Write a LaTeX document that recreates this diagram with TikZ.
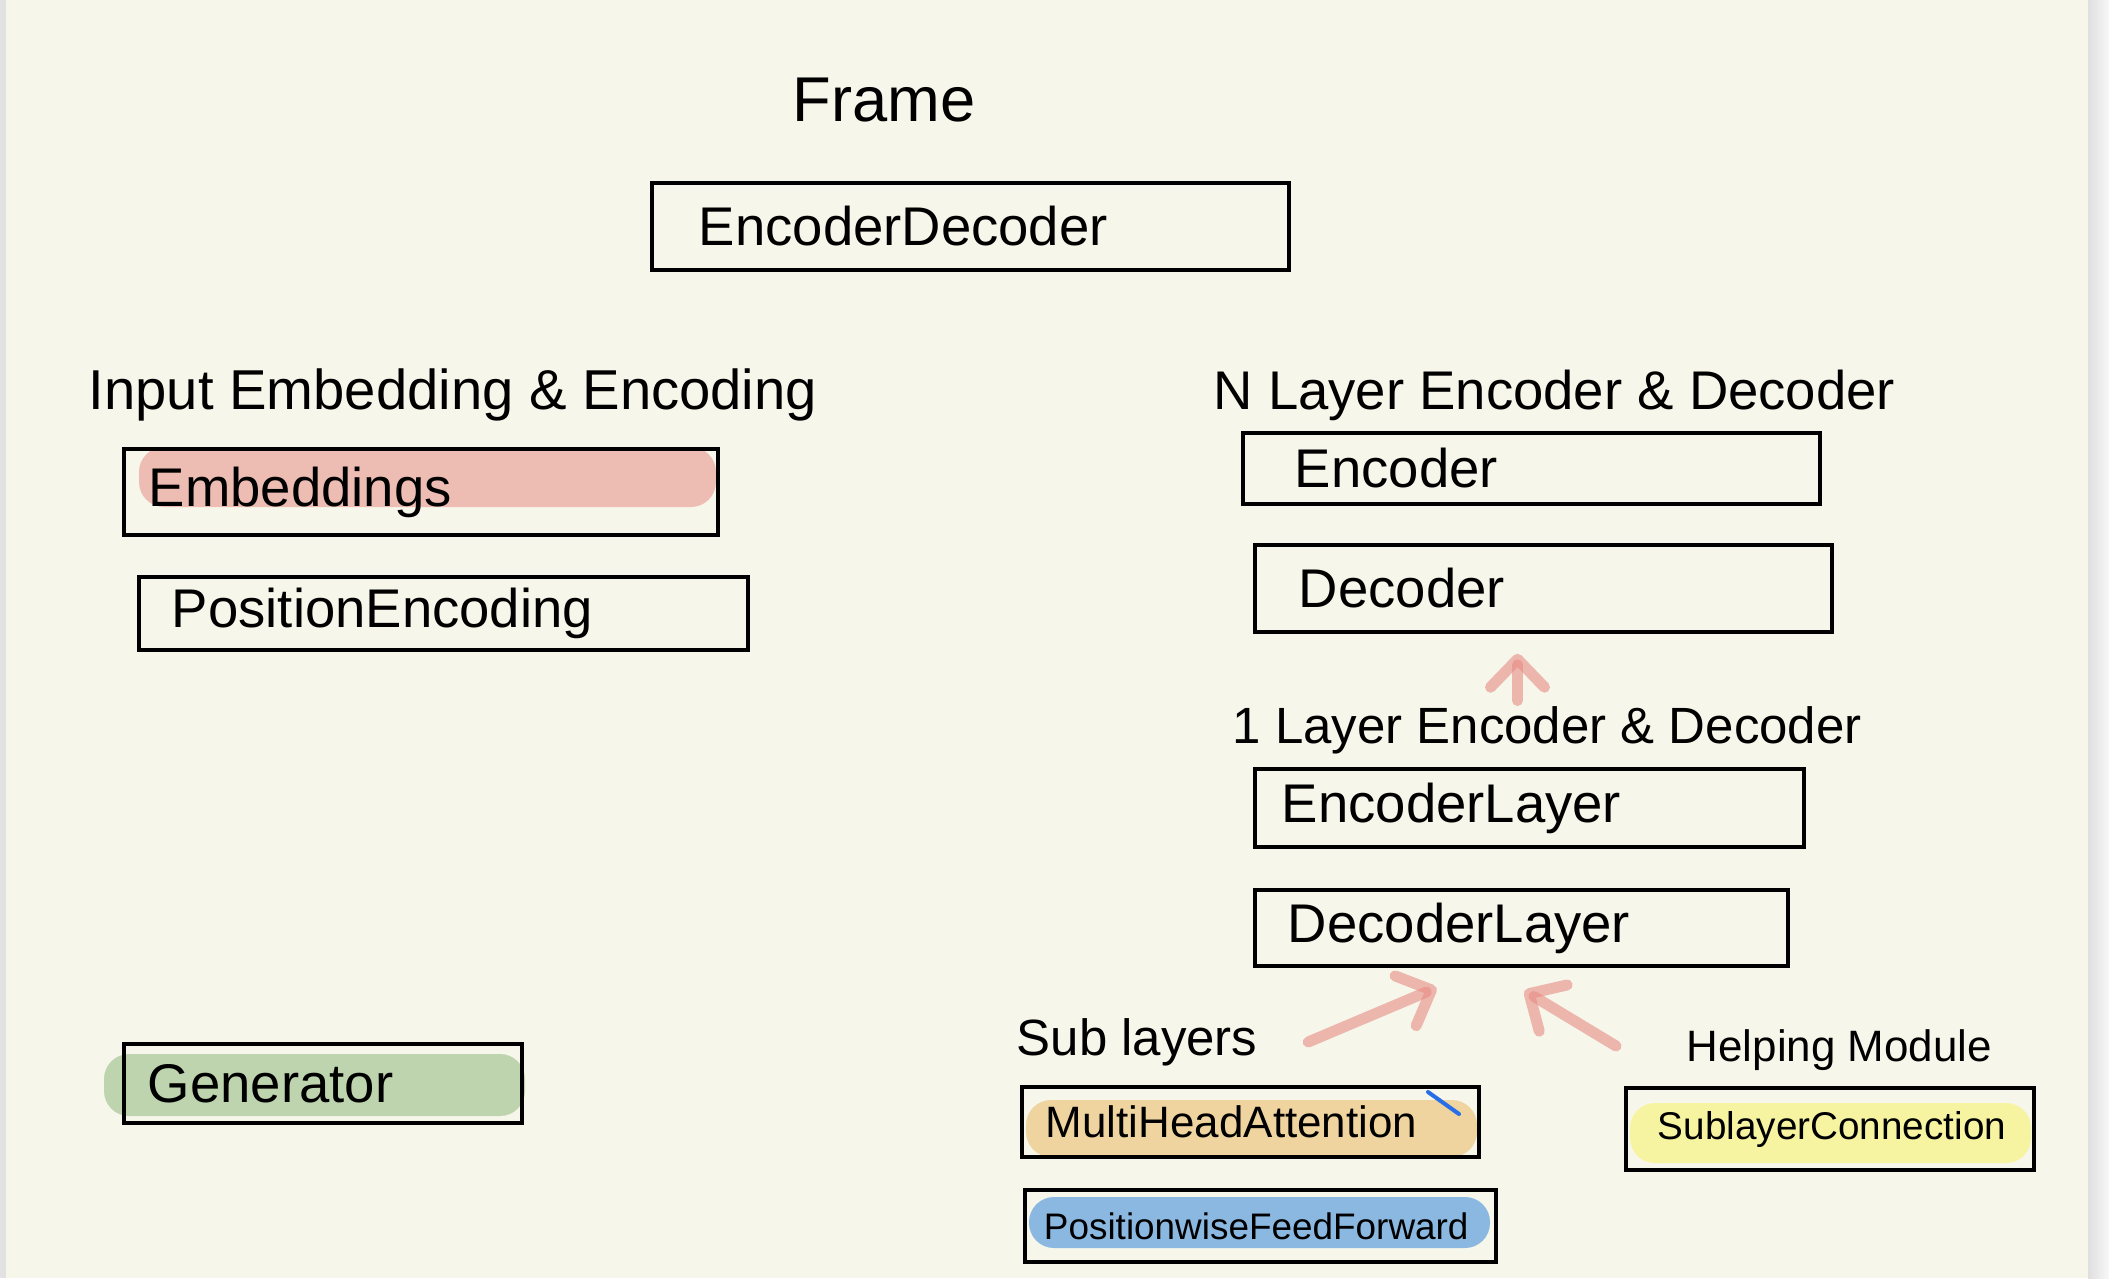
\documentclass[tikz,border=0pt]{standalone}
\usepackage{fontspec}
\setmainfont{Liberation Sans}
\usetikzlibrary{positioning,arrows.meta}

\definecolor{fwpaper}{RGB}{246,246,234}
\definecolor{fwedge}{RGB}{226,226,226}
\definecolor{fwpink}{RGB}{237,189,179}
\definecolor{fwgreen}{RGB}{189,212,174}
\definecolor{fworange}{RGB}{240,212,160}
\definecolor{fwblue}{RGB}{138,184,225}
\definecolor{fwyellow}{RGB}{246,244,160}
\definecolor{fwred}{RGB}{232,140,132}
\definecolor{fwpen}{RGB}{40,110,230}

\tikzset{
  fwbox/.style={draw, line width=0.35mm, inner sep=0pt},
  fwtxt/.style={inner sep=0.5mm, anchor=west, font=\fontsize{15.5pt}{18pt}\selectfont},
  fwsmall/.style={inner sep=0.5mm, anchor=west, font=\fontsize{#1}{14pt}\selectfont},
  fwlab/.style={inner sep=0.5mm, anchor=west, font=\fontsize{16pt}{19pt}\selectfont},
  fwhl/.style={rounded corners=2.5mm},
  fwarr/.style={-{Straight Barb[length=2.8mm,width=5.4mm,round]}, line width=1.1mm, line cap=round, draw=fwred, draw opacity=0.6}
}

\begin{document}
\begin{tikzpicture}[x=0.1mm, y=-0.1mm]
  \useasboundingbox (0,0) rectangle (2109,1278);
  \fill[fwedge] (0,0) rectangle (2109,1278);
  \fill[fwpaper] (6,0) rectangle (2088,1278);
  \shade[left color=gray!25, right color=gray!6] (2088,0) rectangle (2109,1278);

  \fill[fwhl, fwpink] (139,447) rectangle (716,507);
  \fill[fwhl, fwgreen] (104,1054) rectangle (525,1116);
  \fill[fwhl, fworange] (1026,1100) rectangle (1477,1157);
  \fill[fwhl, fwblue] (1029,1197) rectangle (1490,1248);
  \fill[fwhl, fwyellow] (1630,1103) rectangle (2031,1163);

  \node[fwlab, font=\fontsize{18pt}{21pt}\selectfont] (frame) at (787,100) {Frame};
  \node[fwbox, minimum width=63.7mm, minimum height=8.7mm] (encdec) at (970.5,226.5) {};
  \node[fwtxt, right=4.3mm of encdec.west] {EncoderDecoder};

  \node[fwlab] (inlab) at (83,395) {Input Embedding \& Encoding};
  \node[fwbox, minimum width=59.4mm, minimum height=8.6mm] (embed) at (421,492) {};
  \node[fwtxt, right=2.1mm of embed.west] {Embeddings};
  \node[fwbox, minimum width=60.9mm, minimum height=7.3mm] (posenc) at (443.5,613.5) {};
  \node[fwtxt, right=2.9mm of posenc.west] {PositionEncoding};
  \node[fwbox, minimum width=39.8mm, minimum height=7.9mm] (gen) at (323,1083.5) {};
  \node[fwtxt, right=2mm of gen.west] {Generator};

  \node[fwlab, font=\fontsize{15.5pt}{18pt}\selectfont] (nlayer) at (1208,395) {N Layer Encoder \& Decoder};
  \node[fwbox, minimum width=57.7mm, minimum height=7.1mm] (encoder) at (1531.5,468.5) {};
  \node[fwtxt, right=4.8mm of encoder.west] {Encoder};
  \node[fwbox, minimum width=57.7mm, minimum height=8.7mm] (decoder) at (1543.5,588.5) {};
  \node[fwtxt, right=4mm of decoder.west] {Decoder};

  \node[fwlab, font=\fontsize{14.5pt}{17pt}\selectfont] (onelayer) at (1227,730) {1 Layer Encoder \& Decoder};
  \node[fwbox, minimum width=54.9mm, minimum height=7.8mm] (enclayer) at (1529.5,808) {};
  \node[fwtxt, right=2.3mm of enclayer.west] {EncoderLayer};
  \node[fwbox, minimum width=53.3mm, minimum height=7.6mm] (declayer) at (1521.5,928) {};
  \node[fwtxt, right=2.9mm of declayer.west] {DecoderLayer};

  \node[fwsmall=14.5pt] (sublab) at (1011,1042) {Sub layers};
  \node[fwbox, minimum width=45.7mm, minimum height=7mm] (mha) at (1250.5,1122) {};
  \node[fwsmall=12.5pt, right=2mm of mha.west] {MultiHeadAttention};
  \node[fwbox, minimum width=47.1mm, minimum height=7.2mm] (ffn) at (1260.5,1226) {};
  \node[fwsmall=10.5pt, right=1.5mm of ffn.west] {PositionwiseFeedForward};
  \node[fwsmall=12.5pt] (helplab) at (1681,1050) {Helping Module};
  \node[fwbox, minimum width=40.8mm, minimum height=8.2mm] (subconn) at (1830,1129) {};
  \node[fwsmall=11pt, right=2.8mm of subconn.west] {SublayerConnection};
  \draw[fwpen, line width=0.4mm, line cap=round] (1428,1092) -- (1459,1114);

  \coordinate (uptip) at ([xshift=-2.6mm,yshift=-2mm]decoder.south);
  \coordinate (ltip) at ([xshift=-8.5mm,yshift=-2mm]declayer.south);
  \coordinate (rtip) at ([xshift=0.3mm,yshift=-2.3mm]declayer.south);
  \draw[fwarr] (uptip |- onelayer.north) -- (uptip);
  \draw[fwarr] ([xshift=4.5mm]sublab.east) -- (ltip);
  \draw[fwarr] ([xshift=-6.5mm,yshift=0.4mm]helplab.west) -- (rtip);
\end{tikzpicture}
\end{document}
